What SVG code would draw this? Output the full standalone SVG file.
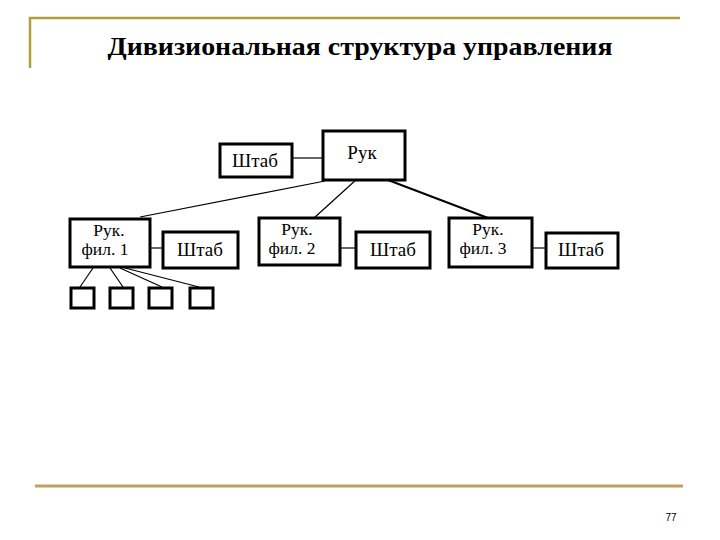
<svg xmlns="http://www.w3.org/2000/svg" width="720" height="540" viewBox="0 0 720 540">
<style>
text{font-family:'Liberation Serif','Times New Roman',serif}
.t{font-size:19px;fill:#000;text-anchor:middle}
.u{font-size:17.5px;fill:#000;text-anchor:middle}
.b{fill:#fff;stroke:#000;stroke-width:3}
.c{stroke:#000;stroke-width:1.2;fill:none}
</style>
<rect width="720" height="540" fill="#fff"/>
<g id="frame">
<path d="M30 68 V18 H680" fill="none" stroke="#ABA03C" stroke-width="2.5"/>
<line x1="35" y1="486" x2="683" y2="486" stroke="#BFA060" stroke-width="3"/>
<text x="360" y="55" font-family="Liberation Serif, Times New Roman, serif" font-size="25" font-weight="bold" text-anchor="middle" textLength="505" lengthAdjust="spacingAndGlyphs">Дивизиональная структура управления</text>
<text x="671" y="521" font-family="Liberation Sans, Arial, sans-serif" style="font-family:'Liberation Sans',Arial,sans-serif" font-size="10" text-anchor="middle">77</text>
</g>
<g id="connectors">
<line class="c" x1="292" y1="158" x2="323" y2="158"/>
<line class="c" x1="325" y1="181" x2="140" y2="217"/>
<line class="c" x1="357" y1="179" x2="314" y2="218"/>
<line x1="388" y1="180" x2="488" y2="218" stroke="#000" stroke-width="2"/>
<line class="c" x1="150" y1="248" x2="163" y2="248"/>
<line class="c" x1="340" y1="248" x2="356" y2="248"/>
<line class="c" x1="532" y1="248" x2="546" y2="248"/>
<line class="c" x1="93" y1="268" x2="80" y2="287"/>
<line class="c" x1="110" y1="268" x2="123" y2="287"/>
<line class="c" x1="120" y1="268" x2="162" y2="287"/>
<line class="c" x1="125" y1="268" x2="199" y2="287"/>
</g>
<g id="ruk">
<rect class="b" x="323" y="131" width="82" height="49"/>
<text class="t" x="362" y="159">Рук</text>
</g>
<g id="shtab0">
<rect class="b" x="220" y="144" width="72" height="33"/>
<text class="t" x="255" y="167">Штаб</text>
</g>
<g id="ruk1">
<rect class="b" x="70" y="219" width="80" height="48" stroke-width="2.5"/>
<text class="u" x="109" y="236">Рук.</text>
<text class="u" x="105" y="255">фил. 1</text>
</g>
<g id="shtab1">
<rect class="b" x="163" y="232" width="75" height="36"/>
<text class="t" x="200" y="256">Штаб</text>
</g>
<g id="ruk2">
<rect class="b" x="259" y="218" width="81" height="47"/>
<text class="u" x="297" y="235">Рук.</text>
<text class="u" x="292" y="254">фил. 2</text>
</g>
<g id="shtab2">
<rect class="b" x="356" y="232" width="74" height="36"/>
<text class="t" x="393" y="256">Штаб</text>
</g>
<g id="ruk3">
<rect class="b" x="449" y="218" width="83" height="49"/>
<text class="u" x="488" y="235">Рук.</text>
<text class="u" x="483" y="254">фил. 3</text>
</g>
<g id="shtab3">
<rect class="b" x="546" y="233" width="72" height="35"/>
<text class="t" x="581" y="256">Штаб</text>
</g>
<g id="units">
<rect class="b" x="71" y="288" width="23" height="20"/>
<rect class="b" x="110" y="288" width="23" height="20"/>
<rect class="b" x="149" y="288" width="23" height="20"/>
<rect class="b" x="190" y="288" width="23" height="20"/>
</g>
</svg>
